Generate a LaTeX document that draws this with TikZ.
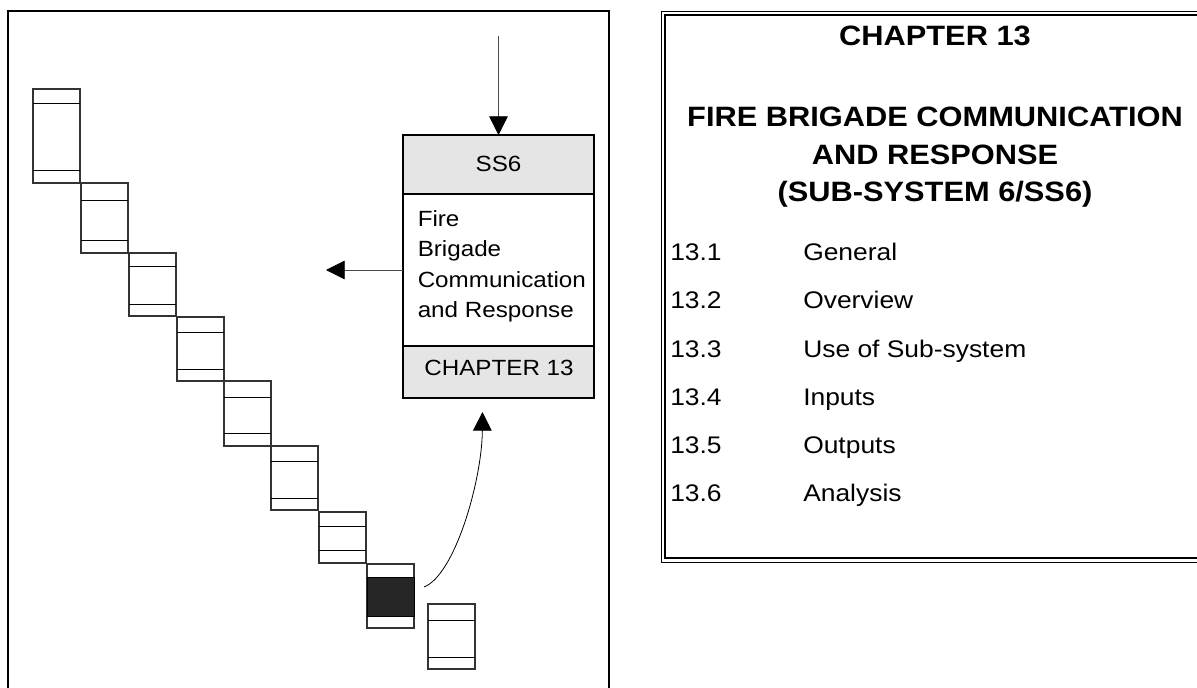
\documentclass[tikz,border=0pt]{standalone}
\usepackage{xcolor}
\usepackage{fontspec}
\setmainfont{Liberation Sans}[FakeStretch=1.1]
\usepackage{tikz}
\usetikzlibrary{arrows.meta,positioning,calc}

\begin{document}
\begin{tikzpicture}[
  x=0.75pt, y=-0.75pt,
  stair/.style={draw=black!80, line width=0.8pt, anchor=north west,
               minimum width=47*0.75pt, inner sep=0pt, outer sep=0pt},
  band/.style={line width=0.7pt},
  ssbox/.style={draw, line width=0.9pt, minimum width=191*0.75pt,
               inner sep=0pt, outer sep=0pt},
  shaded/.style={ssbox, fill=black!10},
  boxtext/.style={font=\fontsize{16.5}{19}\selectfont, inner sep=0pt},
  title/.style={font=\fontsize{21}{25}\selectfont\bfseries, anchor=base, inner sep=0pt},
  item/.style={font=\fontsize{18}{22}\selectfont, anchor=base west, inner sep=0pt},
  flow/.style={-{Triangle[length=14pt, width=14pt, color=black]}, line width=0.6pt, draw=black!70}
]
\useasboundingbox (0,0) rectangle (1197,688);

% left panel
\draw[line width=1.5pt] (8,700) -- (8,11) -- (609,11) -- (609,700);

\node[stair, minimum height=94*0.75pt] (st1) at (33,89) {};
\draw[band] ([shift={(0,14)}]st1.north west) -- ([shift={(0,14)}]st1.north east);
\draw[band] ([shift={(0,81)}]st1.north west) -- ([shift={(0,81)}]st1.north east);
\node[stair, minimum height=70*0.75pt] (st2) at (81,183) {};
\draw[band] ([shift={(0,17)}]st2.north west) -- ([shift={(0,17)}]st2.north east);
\draw[band] ([shift={(0,57)}]st2.north west) -- ([shift={(0,57)}]st2.north east);
\node[stair, minimum height=63*0.75pt] (st3) at (129,253) {};
\draw[band] ([shift={(0,13)}]st3.north west) -- ([shift={(0,13)}]st3.north east);
\draw[band] ([shift={(0,51)}]st3.north west) -- ([shift={(0,51)}]st3.north east);
\node[stair, minimum height=64*0.75pt] (st4) at (177,317) {};
\draw[band] ([shift={(0,15)}]st4.north west) -- ([shift={(0,15)}]st4.north east);
\draw[band] ([shift={(0,52)}]st4.north west) -- ([shift={(0,52)}]st4.north east);
\node[stair, minimum height=65*0.75pt] (st5) at (224,381) {};
\draw[band] ([shift={(0,16)}]st5.north west) -- ([shift={(0,16)}]st5.north east);
\draw[band] ([shift={(0,52)}]st5.north west) -- ([shift={(0,52)}]st5.north east);
\node[stair, minimum height=64*0.75pt] (st6) at (271,446) {};
\draw[band] ([shift={(0,15)}]st6.north west) -- ([shift={(0,15)}]st6.north east);
\draw[band] ([shift={(0,52)}]st6.north west) -- ([shift={(0,52)}]st6.north east);
\node[stair, minimum height=51*0.75pt] (st7) at (319,512) {};
\draw[band] ([shift={(0,14)}]st7.north west) -- ([shift={(0,14)}]st7.north east);
\draw[band] ([shift={(0,38)}]st7.north west) -- ([shift={(0,38)}]st7.north east);
\node[stair, minimum height=64*0.75pt] (st8) at (367,564) {};
\draw[band, fill=black!85] ([shift={(0,13)}]st8.north west) rectangle ([shift={(0,52)}]st8.north east);
\node[stair, minimum height=65*0.75pt] (st9) at (428,604) {};
\draw[band] ([shift={(0,16)}]st9.north west) -- ([shift={(0,16)}]st9.north east);
\draw[band] ([shift={(0,53)}]st9.north west) -- ([shift={(0,53)}]st9.north east);

\node[shaded, minimum height=59*0.75pt] (ss) at (498.5,164.5) {};
\node[ssbox, minimum height=152*0.75pt, below=0pt of ss] (body) {};
\node[shaded, minimum height=52*0.75pt, below=0pt of body] (chap) {};
\node[boxtext, anchor=base] (sslabel) at (498.5,172) {SS6};
\node[boxtext, anchor=base] (chaplabel) at (499,375) {CHAPTER 13};
\node[boxtext, anchor=base west] (bt1) at (417.5,227) {Fire};
\node[boxtext, anchor=base west] (bt2) at (417.5,257) {Brigade};
\node[boxtext, anchor=base west] (bt3) at (417.5,287) {Communication};
\node[boxtext, anchor=base west] (bt4) at (417.5,317) {and Response};

\coordinate (feed) at (498.5,36);
\coordinate (out) at (326,270);
\draw[flow] (feed) -- (ss.north);
\draw[flow] (body.west) -- (out);
\draw[flow, draw=black] ([shift={(10,-9)}]st8.east) .. controls (455,575) and (482,480) .. ([shift={(-16,14)}]chap.south);

% right panel
\draw[line width=0.6pt] (1210,11) -- (661,11) -- (661,562) -- (1210,562);
\draw[line width=1.2pt] (1210,15) -- (665,15) -- (665,558) -- (1210,558);

\node[title] (chtitle) at (935,46) {CHAPTER 13};
\node[title] (ti1) at (935,127) {FIRE BRIGADE COMMUNICATION};
\node[title] (ti2) at (935,164.5) {AND RESPONSE};
\node[title] (ti3) at (935,202) {(SUB-SYSTEM 6/SS6)};

\node[item] (n1) at (670,261) {13.1};
\node[item] (e1) at (803,261) {General};
\node[item] (n2) at (670,309) {13.2};
\node[item] (e2) at (803,309) {Overview};
\node[item] (n3) at (670,357) {13.3};
\node[item] (e3) at (803,357) {Use of Sub-system};
\node[item] (n4) at (670,405) {13.4};
\node[item] (e4) at (803,405) {Inputs};
\node[item] (n5) at (670,453) {13.5};
\node[item] (e5) at (803,453) {Outputs};
\node[item] (n6) at (670,501) {13.6};
\node[item] (e6) at (803,501) {Analysis};
\end{tikzpicture}
\end{document}
